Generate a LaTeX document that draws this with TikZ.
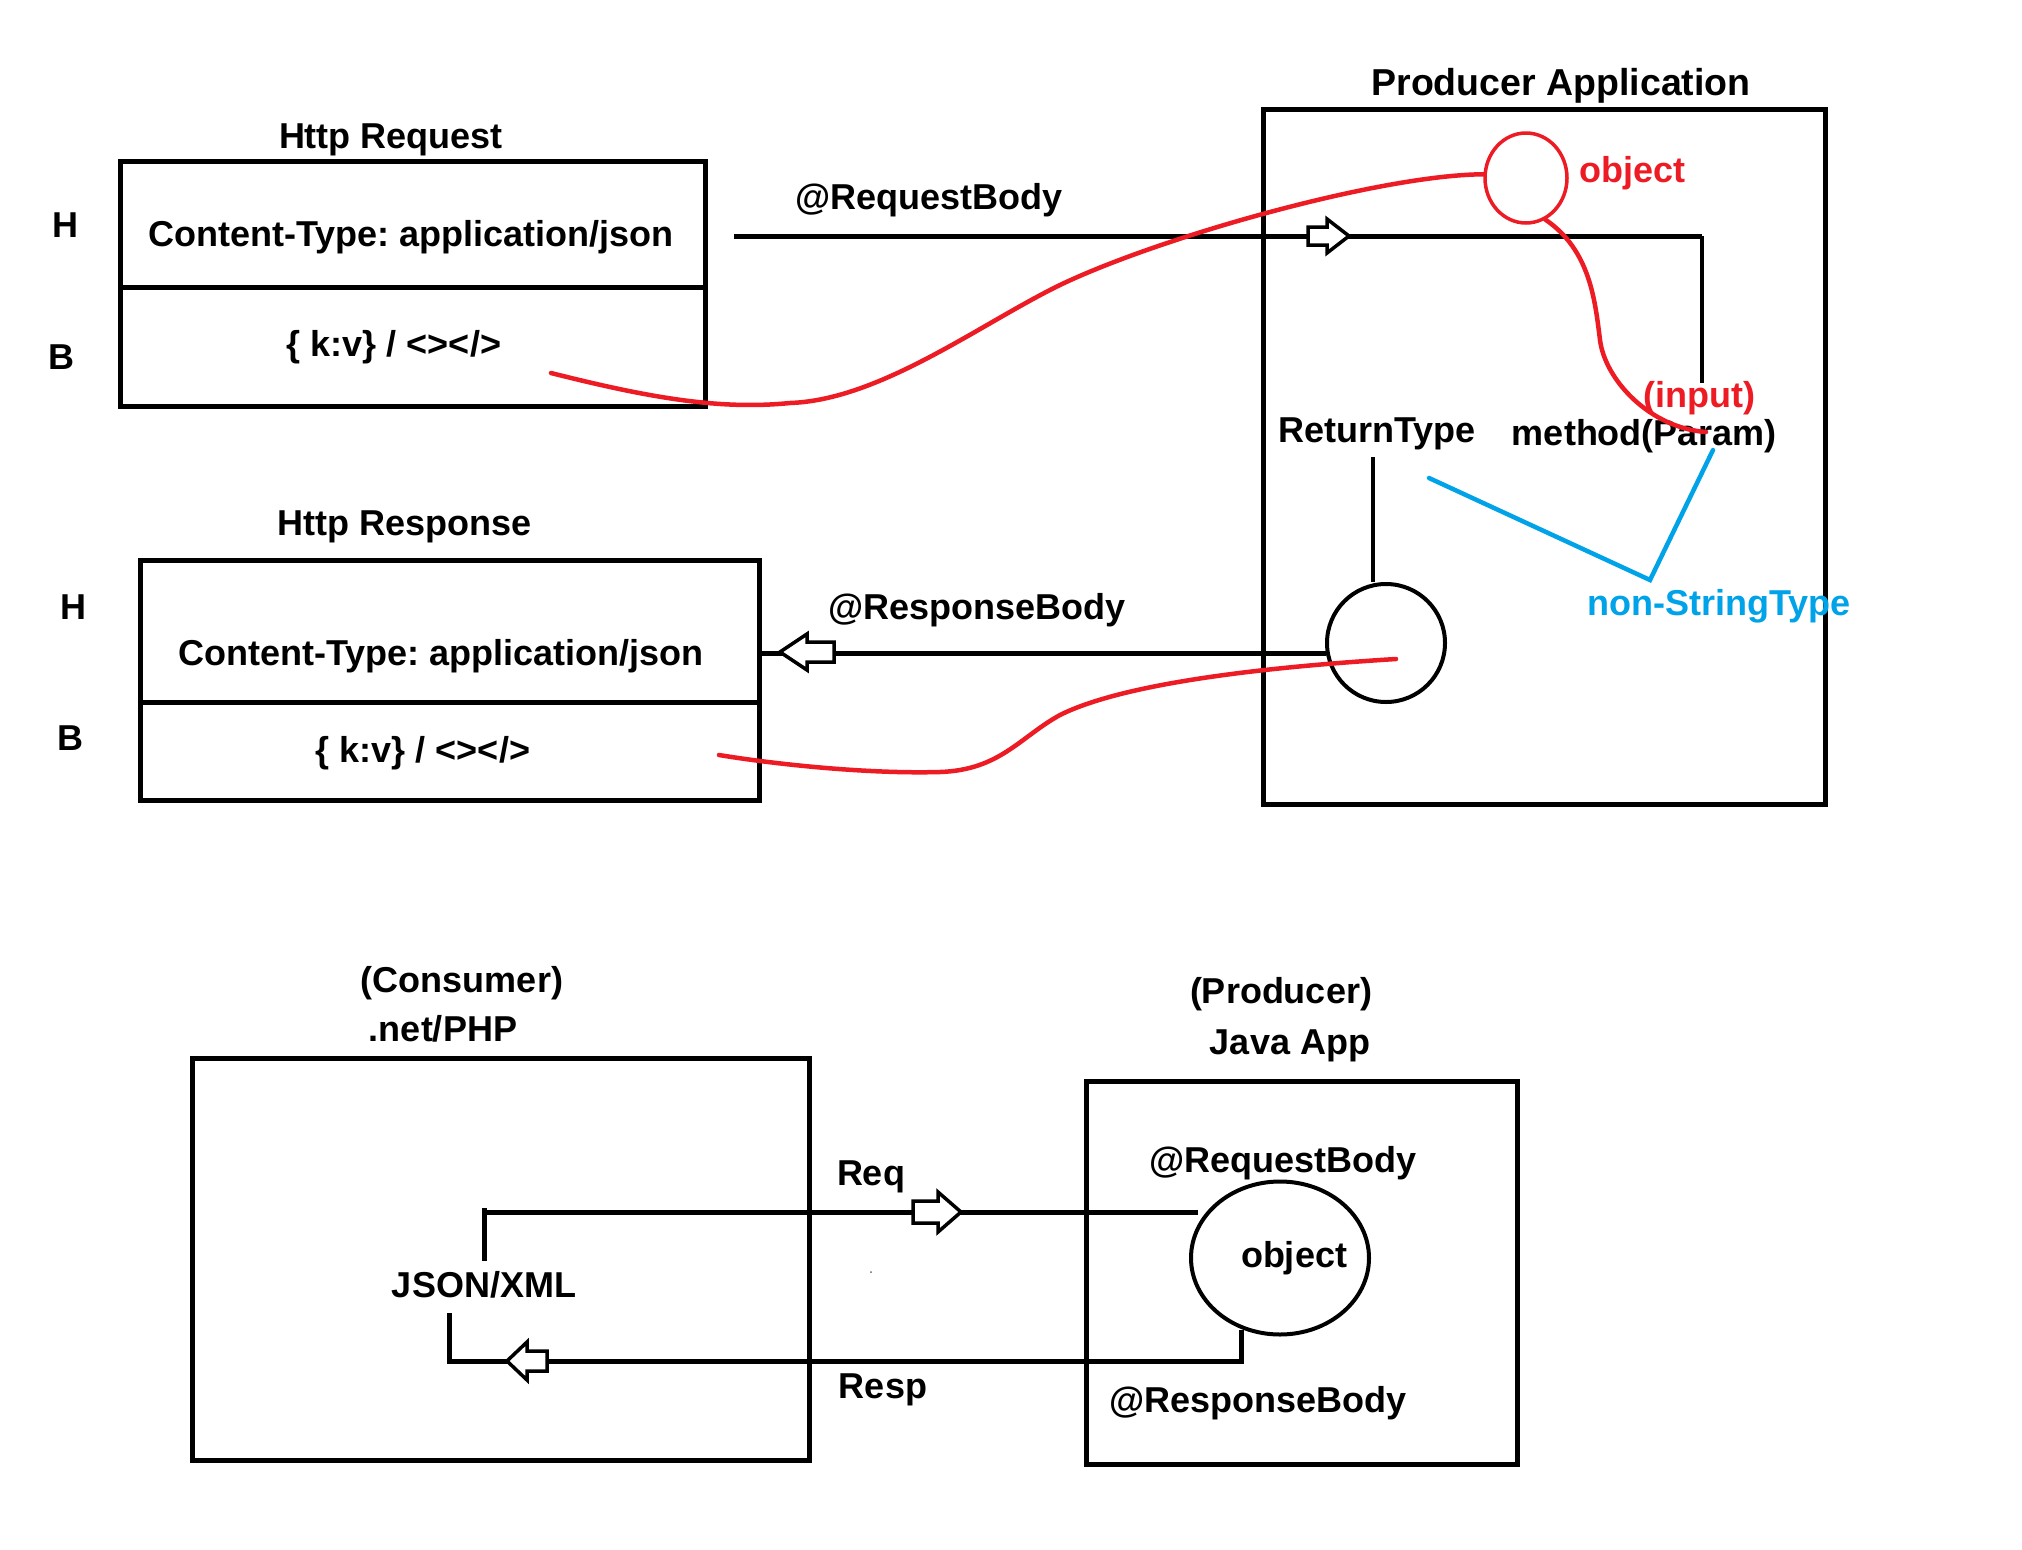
\documentclass[tikz,border=0pt]{standalone}
\usepackage{fontspec}
\setmainfont{Liberation Sans}
\usetikzlibrary{shapes.geometric}
\definecolor{paintred}{HTML}{ED1C24}
\definecolor{paintblue}{HTML}{00A2E8}
\frenchspacing
% hollow block arrow: tail x, head-base x, tip x, y, shaft half-height, head half-height
\newcommand\hollowarrow[6]{%
  \filldraw[hollow] (#1,#4-#5) -- (#2,#4-#5) -- (#2,#4-#6) -- (#3,#4)
    -- (#2,#4+#6) -- (#2,#4+#5) -- (#1,#4+#5) -- cycle;}
\begin{document}
\begin{tikzpicture}[x=1pt,y=-1pt,
  txt/.style={font=\fontsize{36}{43}\selectfont\bfseries, inner sep=0pt, anchor=center},
  bigtxt/.style={txt, font=\fontsize{37.5}{45}\selectfont\bfseries},
  redtxt/.style={txt, text=paintred},
  bluetxt/.style={txt, text=paintblue},
  frame/.style={draw, line width=5pt, inner sep=0pt, anchor=north west},
  wire/.style={line width=5pt},
  thinwire/.style={line width=4pt},
  redpen/.style={draw=paintred, line width=4.5pt, line cap=round},
  bluepen/.style={draw=paintblue, line width=4.5pt, line cap=round, line join=miter},
  hollow/.style={draw=black, fill=white, line width=3.5pt, line join=miter},
]
\useasboundingbox[fill=white] (0,0) rectangle (2022,1550);

% ---------- Http Request ----------
\node[txt] (reqtitle) at (391,140) {Http Request};
\node[frame, minimum width=585pt, minimum height=126pt] (reqH) at (118,159) {};
\node[frame, minimum width=585pt, minimum height=119pt] (reqB) at (118,285) {};
\node[txt] (reqHl) at (65,225) {H};
\node[txt] (reqBl) at (61,357) {B};
\node[txt] (reqct) at (411,237) {Content-Type: application/json};
\node[txt] (reqkv) at (394,347) {\{ k:v\} / <></>};

% ---------- Http Response ----------
\node[txt] (resptitle) at (405,527) {Http Response};
\node[frame, minimum width=619pt, minimum height=142pt] (respH) at (138,558) {};
\node[frame, minimum width=619pt, minimum height=98pt] (respB) at (138,700) {};
\node[txt] (respHl) at (73,607) {H};
\node[txt] (respBl) at (70,738) {B};
\node[txt] (respct) at (441,656) {Content-Type: application/json};
\node[txt] (respkv) at (423,753) {\{ k:v\} / <></>};

% ---------- Producer Application ----------
\node[bigtxt] (prodtitle) at (1561,86) {Producer Application};
\node[frame, minimum width=562pt, minimum height=695pt] (prod) at (1261,107) {};
\node[draw=paintred, line width=3.5pt, ellipse, minimum width=82pt, minimum height=90pt, inner sep=0pt] (robj) at (1526,178) {};
\node[redtxt] (robjl) at (1632,173) {object};
\node[redtxt] (input) at (1699,398) {(input)};
\node[txt] (rettype) at (1377,434) {ReturnType};
\node[txt] (method) at (1644,436) {method(Param)};
\node[bluetxt] (nonstr) at (1719,606) {non-StringType};
\node[draw, line width=4pt, circle, minimum size=118pt, inner sep=0pt] (rcirc) at (1386,643) {};

\node[txt] (reqbody) at (929,200) {@RequestBody};
\node[txt] (respbody) at (977,610) {@ResponseBody};

% request path into the method parameter
\coordinate (rq0) at (734,236);
\coordinate (rq1) at (1702,236);
\coordinate (rq2) at (1702,383);
\draw[wire] (rq0) -- (rq1);
\draw[thinwire] (rq1) -- (rq2);
\hollowarrow{1308}{1327}{1349}{236}{9}{17}

% return value path back to the response
\coordinate (rtstem) at (1373,457);
\draw[thinwire] (rtstem) -- (rtstem |- rcirc.north);
\draw[wire] (rcirc.190) -- (respH.east |- rcirc.190);
\hollowarrow{834}{807}{780}{652}{10}{18}

% blue marks for the non-String types
\coordinate (bl0) at (1429,478);
\coordinate (bl1) at (1650,580);
\coordinate (bl2) at (1713,450);
\draw[bluepen] (bl0) -- (bl1) -- (bl2);

% red annotations
\coordinate (rd0) at (551,373);
\draw[redpen] (rd0) .. controls (650,398) and (720,410) .. (790,403)
  .. controls (880,400) and (980,324) .. (1060,285)
  .. controls (1160,237) and (1380,175) .. (robj.175);
\coordinate (rd1) at (1706,432);
\draw[redpen] (robj.-65) .. controls (1590,250) and (1595,300) .. (1600,340)
  .. controls (1605,380) and (1650,428) .. (rd1);
\coordinate (rd2) at (1396,659);
\coordinate (rd3) at (719,755);
\draw[redpen] (rd2) .. controls (1250,668) and (1120,685) .. (1060,715)
  .. controls (1020,737) and (1000,770) .. (940,772)
  .. controls (870,774) and (780,765) .. (rd3);

% ---------- Consumer / Producer ----------
\node[txt] (constitle) at (462,983) {(Consumer)};
\node[txt] (conslang) at (443,1029) {.net/PHP};
\node[frame, minimum width=617pt, minimum height=402pt] (cons) at (190,1056) {};
\node[txt] (jsonxml) at (484,1285) {JSON/XML};

\node[txt] (ptitle) at (1281,994) {(Producer)};
\node[txt] (plang) at (1290,1046) {Java App};
\node[frame, minimum width=431pt, minimum height=383pt] (japp) at (1084,1079) {};
\node[txt] (jreqbody) at (1283,1163) {@RequestBody};
\node[draw, line width=4pt, ellipse, minimum width=178pt, minimum height=153pt, inner sep=0pt] (jobj) at (1280,1258) {};
\node[txt] (jobjl) at (1294,1258) {object};
\node[txt] (jrespbody) at (1258,1403) {@ResponseBody};

\node[txt] (reqlbl) at (871,1177) {Req};
\node[txt] (resplbl) at (883,1390) {Resp};

\coordinate (jq0) at (484,1261);
\coordinate (jq1) at (484,1208);
\coordinate (jq2) at (484,1212);
\coordinate (jq3) at (1198,1212);
\draw[wire] (jq0) -- (jq1);
\draw[wire] (jq2) -- (jq3);
\hollowarrow{913}{938}{961}{1212}{11}{20}

\coordinate (js0) at (1241,1330);
\coordinate (js1) at (1241,1361);
\coordinate (js2) at (449,1361);
\coordinate (js3) at (449,1313);
\draw[wire, line join=miter] (js0) -- (js1) -- (js2) -- (js3);
\hollowarrow{547}{527}{507}{1361}{10}{19}

\fill[black!60] (871,1272) circle (1pt);
\end{tikzpicture}
\end{document}
